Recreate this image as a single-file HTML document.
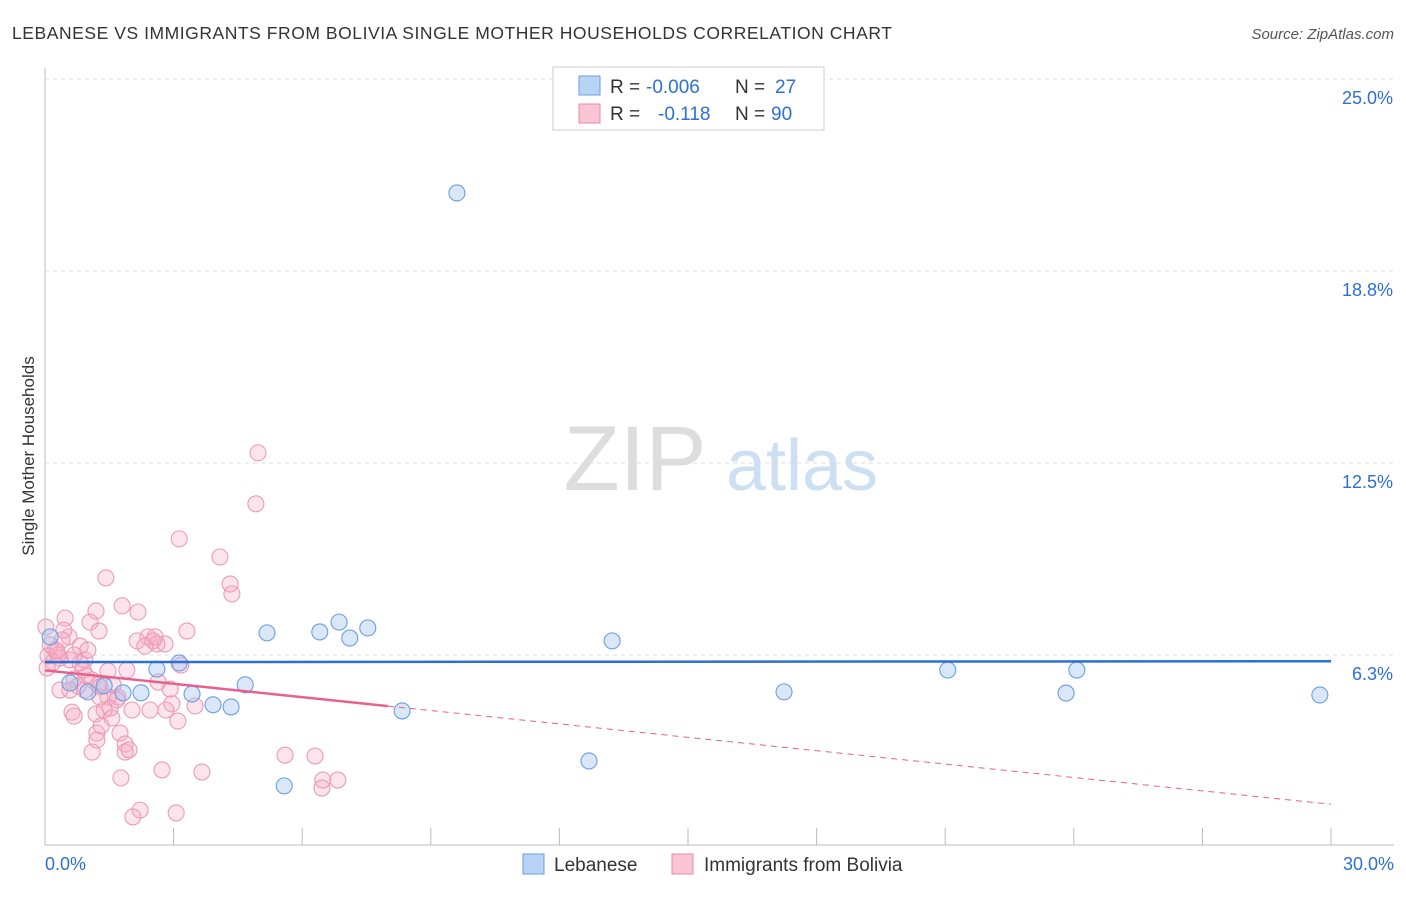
<!DOCTYPE html>
<html><head><meta charset="utf-8"><style>
body{margin:0;background:#fff;font-family:"Liberation Sans",sans-serif;}
svg text{font-family:"Liberation Sans",sans-serif;}
</style></head><body>
<svg id="c" width="1406" height="892">
<text x="12" y="39" font-size="17.5" fill="#333" letter-spacing="0.55">LEBANESE VS IMMIGRANTS FROM BOLIVIA SINGLE MOTHER HOUSEHOLDS CORRELATION CHART</text>
<text x="1394" y="39" font-size="15" fill="#555" font-style="italic" text-anchor="end">Source: ZipAtlas.com</text>
<text x="0" y="0" transform="translate(34,456) rotate(-90)" font-size="17" fill="#333" text-anchor="middle">Single Mother Households</text>
<g><text x="635" y="490" font-size="92" fill="#ddd" font-family="Liberation Serif" text-anchor="middle">ZIP</text><text x="802" y="490" font-size="72" fill="#cddff3" text-anchor="middle">atlas</text></g>
<g id="grid"></g><g id="axes"></g><g id="pts"></g><g id="lines"></g>
<g>
<rect x="553" y="67" width="271" height="63" fill="#fff" stroke="#ccc"/>
<rect x="579" y="76" width="21" height="19" fill="#b8d4f5" stroke="#6a9ee0"/>
<rect x="579" y="104" width="21" height="19" fill="#f9c4d4" stroke="#e88aa8"/>
<text x="610" y="93" font-size="19" fill="#333">R =</text>
<text x="646" y="93" font-size="19" fill="#2c6fd6">-0.006</text>
<text x="735" y="93" font-size="19" fill="#333">N =</text>
<text x="775" y="93" font-size="19" fill="#2c6fd6">27</text>
<text x="610" y="120" font-size="19" fill="#333">R =</text>
<text x="658" y="120" font-size="19" fill="#2c6fd6">-0.118</text>
<text x="735" y="120" font-size="19" fill="#333">N =</text>
<text x="771" y="120" font-size="19" fill="#2c6fd6">90</text>
</g>
<g>
<rect x="523" y="854" width="21" height="20" fill="#b8d4f5" stroke="#6a9ee0"/>
<text x="554" y="871" font-size="19" fill="#333">Lebanese</text>
<rect x="672" y="854" width="21" height="20" fill="#f9c4d4" stroke="#e88aa8"/>
<text x="704" y="871" font-size="19" fill="#333">Immigrants from Bolivia</text>
</g>
</svg>
<script>
const yTicks=[25,18.8,12.5,6.3];
const yTickVals=[25,18.75,12.5,6.25];
const xTickLabels=["0.0%","30.0%"];
const blueX=[9.61,5.18,6.41,6.86,7.11,7.53,13.23,2.61,3.13,21.06,24.07,0.12,0.58,1.0,1.82,2.24,3.43,4.67,3.92,4.34,8.33,17.24,23.82,29.74,12.69,5.58,1.38];
const blueY=[21.29,6.97,7.0,7.32,6.8,7.13,6.71,5.79,5.99,5.76,5.76,6.84,5.34,5.05,5.02,5.02,4.98,5.28,4.63,4.56,4.43,5.05,5.01,4.95,2.8,1.99,5.25];
const pinkX=[4.97,4.92,3.13,4.08,4.32,4.36,1.42,1.80,2.17,1.19,0.47,1.05,1.26,3.31,2.40,2.15,2.52,2.61,2.33,2.80,2.57,0.56,0.40,0.82,0.02,0.12,0.23,0.07,0.35,0.19,0.58,0.82,0.93,0.30,1.91,1.47,0.89,0.68,1.10,0.77,1.24,1.59,1.28,2.64,3.17,2.92,2.96,3.50,1.70,1.47,1.52,2.45,2.82,2.03,1.38,1.19,0.63,0.68,0.58,3.10,1.75,1.21,1.21,1.87,1.87,1.96,1.10,1.77,2.73,3.66,5.6,6.3,6.48,6.83,6.46,2.22,2.05,3.06,1.31,1.56,1.28,0.96,0.44,0.28,0.05,0.68,1.0,1.68,0.93,0.35];
const pinkY=[12.83,11.17,10.03,9.44,8.56,8.24,8.76,7.85,7.65,7.68,7.45,7.32,7.03,7.03,6.84,6.71,6.71,6.61,6.54,6.61,6.84,6.84,6.74,6.54,7.16,6.58,6.41,6.22,6.15,6.02,6.09,5.99,6.09,6.25,5.76,5.73,5.76,5.47,5.44,5.24,5.27,5.27,5.21,5.37,5.92,5.14,4.66,4.59,4.88,4.88,4.52,4.46,4.46,4.46,4.46,4.33,4.39,4.26,5.11,4.10,3.71,3.71,3.48,3.35,3.09,3.16,3.09,2.25,2.51,2.44,2.99,2.96,2.18,2.18,1.92,1.20,0.98,1.11,3.94,4.20,4.88,5.57,7.06,6.38,5.83,6.25,6.41,4.79,5.11,5.11];
const pinkSolidEnd=8.0;
const X0=45,X1=1331,Y0=79,PY=30.72;
const xs=v=>X0+v*(X1-X0)/30, ys=v=>Y0+(25-v)*PY;
const NS="http://www.w3.org/2000/svg";
function mk(t,a,p){const e=document.createElementNS(NS,t);for(const k in a)e.setAttribute(k,a[k]);document.getElementById(p).appendChild(e);return e;}
yTickVals.forEach((v,i)=>{
 const g=mk('line',{x1:45,x2:1394,y1:ys(v),y2:ys(v),stroke:'#ddd','stroke-dasharray':'4,4'},'grid');
 
 
 const t=mk('text',{x:1393,y:ys(v)+25,'font-size':18,fill:'#2c6fd6','text-anchor':'end'},'axes');
 t.textContent=yTicks[i].toFixed(1)+'%';
 
 
});
const ax=mk('line',{x1:45,x2:45,y1:68,y2:845,stroke:'#bbb'},'axes');


const bx=mk('line',{x1:45,x2:1394,y1:845,y2:845,stroke:'#bbb'},'axes');


for(let i=1;i<=10;i++){const tk=mk('line',{x1:xs(i*3),x2:xs(i*3),y1:828,y2:845,stroke:'#bbb'},'axes');
 
 }
[[0,'start',45],[30,'end',1394]].forEach((d,i)=>{const t=mk('text',{x:d[2],y:870,'font-size':18,fill:'#2c6fd6','text-anchor':d[1]},'axes');t.textContent=xTickLabels[i];
 
 });
function pts(X,Y,fill,stroke,name){X.forEach((x,i)=>{const c=mk('circle',{cx:xs(x),cy:ys(Y[i]),r:8,fill:fill,stroke:stroke,'stroke-width':1.1},'pts');
 
 });}
pts(pinkX,pinkY,'rgba(246,170,195,0.32)','#ec9ab6','bolivia-point');
pts(blueX,blueY,'rgba(160,196,240,0.4)','#6a9ee0','lebanese-point');
function fit(X,Y){const n=X.length;let mx=0,my=0;X.forEach((x,i)=>{mx+=x;my+=Y[i]});mx/=n;my/=n;let sxy=0,sxx=0;X.forEach((x,i)=>{sxy+=(x-mx)*(Y[i]-my);sxx+=(x-mx)**2});const b=sxy/sxx;return [my-b*mx,b];}
const fb=fit(blueX,blueY);
const bl=mk('line',{x1:xs(0),y1:ys(fb[0]),x2:xs(30),y2:ys(fb[0]+fb[1]*30),stroke:'#2a6fd6','stroke-width':2.5},'lines');


const fp=fit(pinkX,pinkY);const xe=pinkSolidEnd;
const pl=mk('line',{x1:xs(0),y1:ys(fp[0]),x2:xs(xe),y2:ys(fp[0]+fp[1]*xe),stroke:'#e8608c','stroke-width':2.5},'lines');


const pd=mk('line',{x1:xs(xe),y1:ys(fp[0]+fp[1]*xe),x2:xs(30),y2:ys(fp[0]+fp[1]*30),stroke:'#e8608c','stroke-width':1,'stroke-dasharray':'6,5'},'lines');


</script>
</body></html>
